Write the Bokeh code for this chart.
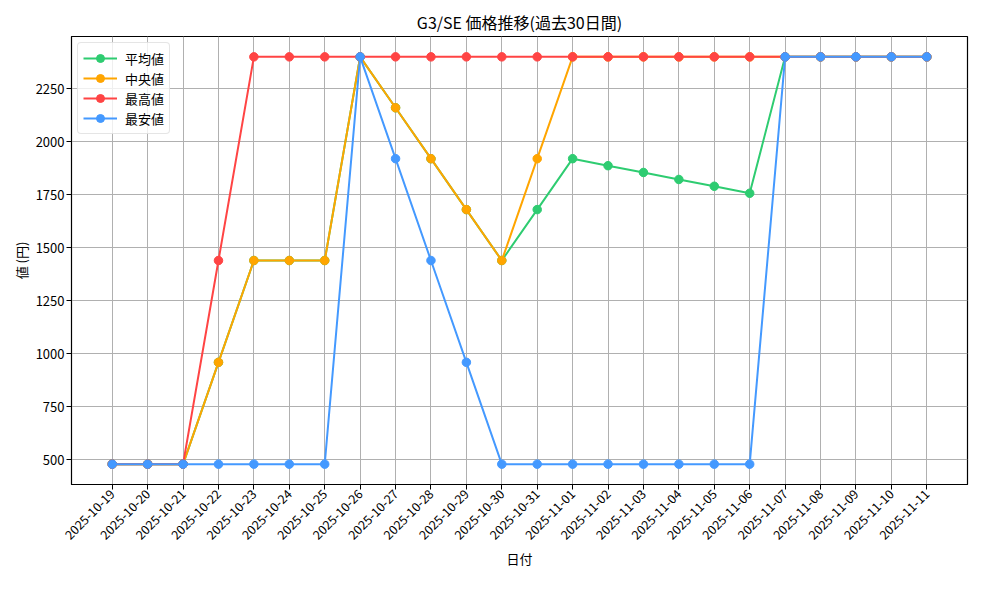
from math import pi
from bokeh.plotting import figure
from bokeh.models import FixedTicker, Range1d, Title
from bokeh.embed import file_html
from bokeh.resources import INLINE

dates = ["2025-10-19", "2025-10-20", "2025-10-21", "2025-10-22", "2025-10-23", "2025-10-24",
         "2025-10-25", "2025-10-26", "2025-10-27", "2025-10-28", "2025-10-29", "2025-10-30",
         "2025-10-31", "2025-11-01", "2025-11-02", "2025-11-03", "2025-11-04", "2025-11-05",
         "2025-11-06", "2025-11-07", "2025-11-08", "2025-11-09", "2025-11-10", "2025-11-11"]
avg_vals = [480, 480, 480, 960, 1440, 1440, 1440, 2400, 2160, 1920, 1680, 1440,
            1680, 1920, 1887, 1855, 1822, 1790, 1757, 2400, 2400, 2400, 2400, 2400]
median_vals = [480, 480, 480, 960, 1440, 1440, 1440, 2400, 2160, 1920, 1680, 1440,
               1920, 2400, 2400, 2400, 2400, 2400, 2400, 2400, 2400, 2400, 2400, 2400]
max_vals = [480, 480, 480, 1440, 2400, 2400, 2400, 2400, 2400, 2400, 2400, 2400,
            2400, 2400, 2400, 2400, 2400, 2400, 2400, 2400, 2400, 2400, 2400, 2400]
min_vals = [480, 480, 480, 480, 480, 480, 480, 2400, 1920, 1440, 960, 480,
            480, 480, 480, 480, 480, 480, 480, 2400, 2400, 2400, 2400, 2400]
y_ticks = [500, 750, 1000, 1250, 1500, 1750, 2000, 2250]

series = [("平均値", avg_vals, "#2ecc71"),
          ("中央値", median_vals, "#ffa500"),
          ("最高値", max_vals, "#ff4444"),
          ("最安値", min_vals, "#4499ff")]

FONT = "Noto Sans CJK JP"
x = list(range(len(dates)))
n = len(dates) - 1
ymin = min(min(s[1]) for s in series)
ymax = max(max(s[1]) for s in series)
pad = (ymax - ymin) * 0.05

p = figure(width=984, height=584, output_backend="svg", toolbar_location=None,
           x_range=Range1d(-0.05 * n, n * 1.05),
           y_range=Range1d(ymin - pad, ymax + pad),
           min_border_left=71, min_border_right=17, min_border_top=36, min_border_bottom=100)
p.title = Title(text="G3/SE 価格推移(過去30日間)", align="center",
                text_font=FONT, text_font_size="16px", text_font_style="normal",
                text_color="black", offset=0, standoff=6)

for label, vals, color in series:
    p.line(x, vals, line_color=color, line_width=2, legend_label=label)
    p.scatter(x, vals, size=8.5, fill_color=color, line_color=color, legend_label=label)

p.xaxis.ticker = FixedTicker(ticks=x)
p.xaxis.major_label_overrides = {i: d for i, d in enumerate(dates)}
p.xaxis.major_label_orientation = pi / 4
p.yaxis.ticker = FixedTicker(ticks=y_ticks)
p.xaxis.axis_label = "日付"
p.yaxis.axis_label = "値 (円)"

for ax in (p.xaxis[0], p.yaxis[0]):
    ax.axis_label_text_font = FONT
    ax.axis_label_text_font_size = "13px"
    ax.axis_label_text_font_style = "normal"
    ax.axis_label_text_color = "black"
    ax.axis_label_standoff = 2
    ax.major_label_text_font = FONT
    ax.major_label_text_font_size = "13px"
    ax.major_label_text_color = "black"
    ax.axis_line_color = "black"
    ax.major_tick_line_color = "black"
    ax.major_tick_out = 5
    ax.major_tick_in = 0
    ax.minor_tick_line_color = None
    ax.major_label_standoff = 2

p.xaxis[0].major_label_text_font_size = "12.5px"

p.xgrid.grid_line_color = "#b0b0b0"
p.ygrid.grid_line_color = "#b0b0b0"
p.xgrid.grid_line_width = 1
p.ygrid.grid_line_width = 1
p.outline_line_color = "black"
p.outline_line_width = 1.2

lg = p.legend[0]
lg.location = "top_left"
lg.margin = 6
lg.padding = 5
lg.spacing = 0
lg.label_text_font = FONT
lg.label_text_font_size = "13px"
lg.label_text_color = "black"
lg.label_height = 20
lg.glyph_height = 20
lg.glyph_width = 34
lg.label_standoff = 8
lg.border_line_color = "#cccccc"
lg.border_radius = 4
lg.background_fill_alpha = 0.8

open("out.html", "w").write(file_html(p, INLINE))
